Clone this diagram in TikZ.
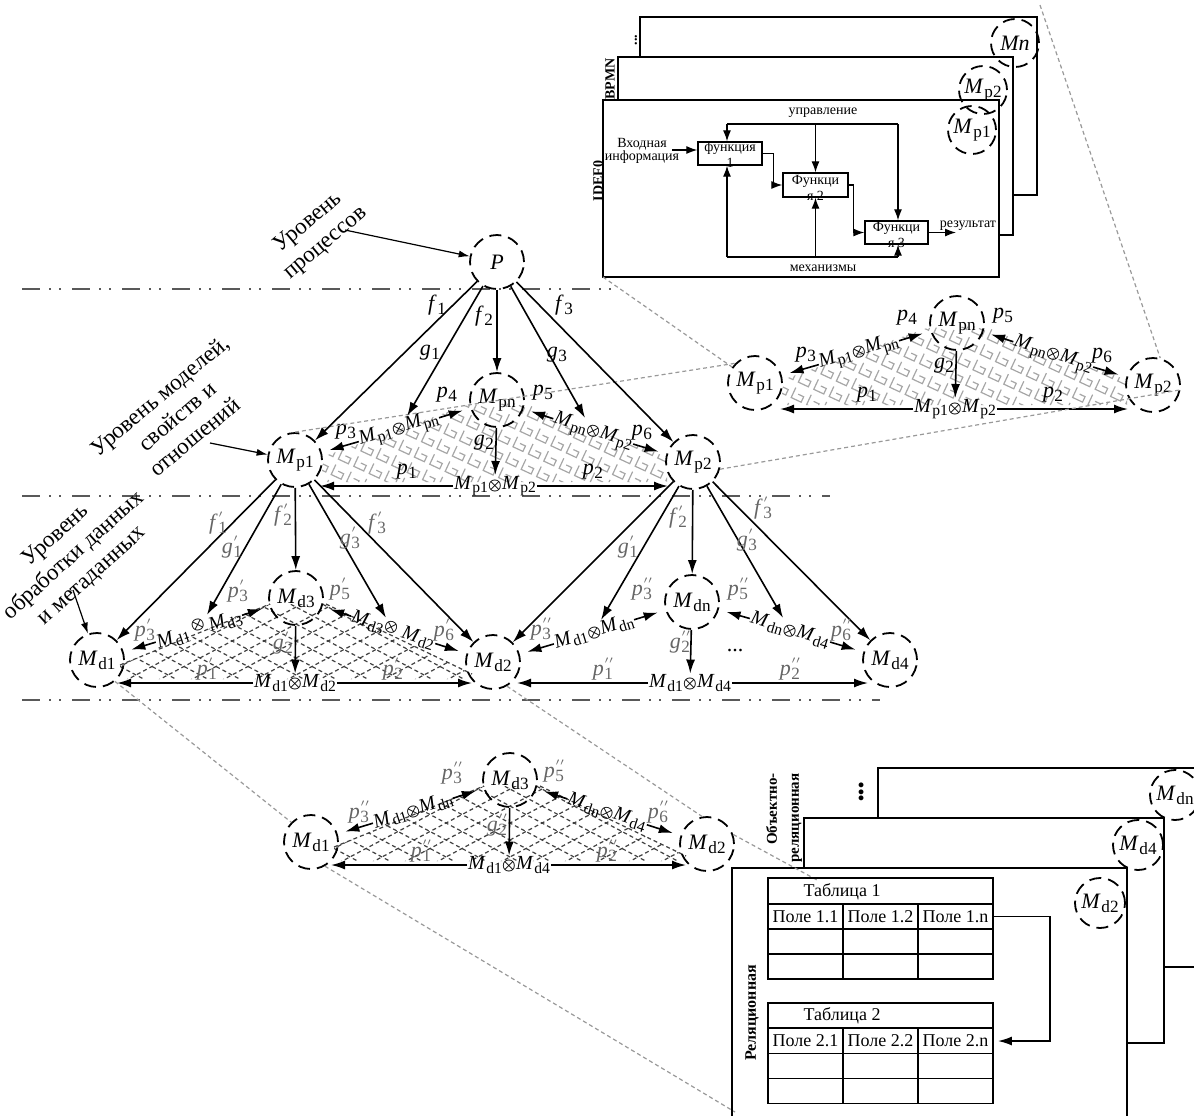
\documentclass[tikz,border=0pt]{standalone}
\usepackage{fontspec}
\setmainfont{Liberation Serif}
\usetikzlibrary{arrows.meta}
\makeatletter
\newcommand\subs[1]{{\edef\tmpsz{\strip@pt\dimexpr0.78\dimexpr\f@size pt\relax\relax}\fontsize{\tmpsz}{\tmpsz}\selectfont #1}}
\newcommand\otm{{\edef\tmpsz{\strip@pt\dimexpr0.66\dimexpr\f@size pt\relax\relax}\fontsize{\tmpsz}{\tmpsz}\selectfont\boldmath$\otimes$}}
\makeatother
\newcommand\Mm[1]{\textit{M}\kern0.03em\raisebox{-0.4ex}{\subs{#1}}}
\newcommand\mv[2]{\textit{#1}\kern0.02em\raisebox{-0.4ex}{\subs{#2}}}
\newcommand\mvp[3]{\textit{#1}\kern0.02em\rlap{\raisebox{1.1ex}{\fontsize{5.5}{5.5}\selectfont$#3$}}\raisebox{-0.4ex}{\subs{#2}}}
\tikzset{
 mc/.style={circle,draw,line width=0.9pt,dash pattern=on 6pt off 3.5pt,minimum size=27pt,inner sep=0pt,font=\fontsize{11}{13}\selectfont},
 mcs/.style={mc,minimum size=24pt},
 arr/.style={draw,line width=0.8pt,-{Latex[length=7pt,width=4.5pt]}},
 rarr/.style={arr,shorten >=4pt},
 tarr/.style={draw,line width=0.6pt,-{Latex[length=5.5pt,width=3.5pt]}},
 sarr/.style={draw,line width=0.6pt,-{Latex[length=5.5pt,width=4pt]}},
 lab/.style={inner sep=0.5pt,font=\fontsize{11}{13}\selectfont},
 glab/.style={lab,text=black!60},
 rel/.style={inner sep=0.3pt,font=\fontsize{10}{12}\selectfont},
 lvl/.style={draw=black!65,line width=1pt,dash pattern=on 9pt off 4.5pt on 1pt off 4pt on 1pt off 5.5pt},
 zl/.style={draw=black!40,line width=0.6pt,dash pattern=on 2pt off 1.5pt},
 stkbox/.style={draw,line width=0.8pt,fill=white},
 sm/.style={inner sep=0pt,font=\fontsize{7}{6.5}\selectfont,align=center},
 ftx/.style={inner sep=0pt,font=\fontsize{7}{8}\selectfont,align=center},
 fb/.style={draw,line width=0.7pt,inner sep=0pt,minimum width=32pt,minimum height=11.5pt},
 bl/.style={inner sep=0pt,font=\bfseries\fontsize{7}{7.5}\selectfont,rotate=90,align=center},
 lev/.style={inner sep=0pt,font=\fontsize{11.5}{13.5}\selectfont,align=center,rotate=40},
 cell/.style={draw,line width=0.9pt,minimum width=37.5pt,minimum height=12.5pt,inner sep=0pt,font=\fontsize{9}{10}\selectfont},
 ttl/.style={inner sep=0pt,font=\fontsize{9}{10}\selectfont},
 mz/.style={draw=black!35,line width=0.6pt},
 dh/.style={draw=black!75,line width=0.6pt,dash pattern=on 2pt off 1.5pt},
}
\newcommand\mazehatch{%
 \begin{scope}
 \clip (322,457)--(467,405)--(523,403)--(667,457)--(667,482)--(322,482)--cycle;
 \begin{scope}[rotate around={-25:(495,445)}]
 \foreach \j in {-9,...,9}{\draw[mz] \foreach \i in {-13,...,13}{({495+\i*17},{445+\j*17}) -- ++(0,11) -- ++(11,0) -- ++(0,-6) -- ++(-6,0)};}
 \end{scope}
 \end{scope}}
\newcommand\dashhatch{%
 \begin{scope}
 \clip (120,665)--(270,604)--(326,604)--(472,674)--(470,679)--(122,679)--cycle;
 \foreach \k in {-12,...,12}{
 \draw[dh] ({296+\k*32-230},{641-122}) -- ({296+\k*32+230},{641+122});
 \draw[dh] ({296+\k*32-230},{641+122}) -- ({296+\k*32+230},{641-122});}
 \end{scope}
 \draw[dh] (120,665)--(270,604) (326,604)--(472,674);}
\newcommand\proctri[1]{%
 \mazehatch
 \node[mc] (#1Mp1) at (295,460) {\Mm{p1}};
 \node[mc] (#1Mpn) at (497,400) {\Mm{pn}};
 \node[mc] (#1Mp2) at (693,462) {\Mm{p2}};
 \node[rel,rotate=16.5] (#1r1) at (399,430) {\Mm{p1}\otm\Mm{pn}};
 \node[rel,rotate=-17.5] (#1r2) at (593,432) {\Mm{pn}\otm\Mm{p2}};
 \node[rel] (#1r12) at (495,486) {\Mm{p1}\otm\Mm{p2}};
 \coordinate (#1e1) at (320,486);
 \coordinate (#1e2) at (668,486);
 \draw[rarr] (#1r1) -- (#1Mp1);
 \draw[rarr] (#1r1) -- (#1Mpn);
 \draw[rarr] (#1r2) -- (#1Mpn);
 \draw[rarr] (#1r2) -- (#1Mp2);
 \draw[arr] (#1r12) -- (#1e1);
 \draw[arr] (#1r12) -- (#1e2);
 \draw[arr] (#1Mpn) -- (#1r12);
 \node[lab] (#1l3) at (346,432) {\mv{p}{3}};
 \node[lab] (#1l4) at (447,395) {\mv{p}{4}};
 \node[lab] (#1l5) at (543,393) {\mv{p}{5}};
 \node[lab] (#1l6) at (642,433) {\mv{p}{6}};
 \node[lab] (#1l1) at (407,472) {\mv{p}{1}};
 \node[lab] (#1l2) at (593,472) {\mv{p}{2}};
 \node[lab] (#1lg) at (484,443) {\mv{g}{2}};
}
\begin{document}
\begin{tikzpicture}[x=0.5pt,y=-0.5pt]
\useasboundingbox (0,0) rectangle (1194,1115);
% level separators
\draw[lvl] (22,289) -- (617,289);
\draw[lvl] (22,496) -- (830,496);
\draw[lvl] (22,700) -- (880,700);
% upper right stack
\draw[stkbox] (640,17) rectangle (1037,195);
\draw[stkbox] (618,57) rectangle (1013,235);
\draw[stkbox] (603,100) rectangle (999,277);
\coordinate (cIDEF) at (603,277);
\coordinate (cMn) at (1040,5);
\node[bl] (dotsA) at (636,40) {...};
\node[bl] (bpmn) at (610,79) {BPMN};
\node[bl] (idef) at (598,181) {IDEF0};
\node[sm] (ctl) at (823,113) {управление};
\node[sm] (inp) at (642,151) {Входная\\информация};
\node[ftx] (F1t) at (730,155) {функция\\1};
\node[ftx] (F2t) at (815.5,187.5) {Функци\\я 2};
\node[ftx] (F3t) at (896.5,235) {Функци\\я 3};
\node[fb] (F1) at (730,153.5) {};
\node[fb,minimum width=32.5pt,minimum height=12pt] (F2) at (815.5,185) {};
\node[fb,minimum width=31.5pt] (F3) at (896.5,232.5) {};
\coordinate (inS) at (672,150);
\draw[sarr] (inS) -- (inS -| F1.west);
\coordinate (cL) at (727,124);
\coordinate (cR) at (898,124);
\draw[line width=0.6pt] (cL) -- (cR);
\draw[sarr] (cL) -- (cL |- F1.north);
\draw[sarr] (F2.north |- cL) -- (F2.north);
\draw[sarr] (cR) -- (cR |- F3.north);
\coordinate (mL) at (727,257);
\coordinate (mR) at (898,257);
\draw[line width=0.6pt] (mL) -- (mR);
\draw[sarr] (mL) -- (mL |- F1.south);
\draw[sarr] (F2.south |- mL) -- (F2.south);
\draw[sarr] (mR) -- (mR |- F3.south);
\draw[sarr] (F1.east) -- ++(11,0) |- (F2.west);
\draw[sarr] (F2.east) -- ++(5,0) |- (F3.west);
\node[sm] (res) at (968,226) {результат};
\coordinate (resA) at (956,232.5);
\draw[sarr] (F3.east) -- (resA);
\node[sm] (mech) at (823,268) {механизмы};
\node[mcs] (sMn) at (1015,43) {\textit{Mn}};
\node[mcs] (sMp2) at (983,90) {\Mm{p2}};
\node[mcs] (sMp1) at (972,130) {\Mm{p1}};
% level 1
\node[mc,minimum size=27pt] (P) at (497,262) {\textit{P}};
\node[lev] (lv1) at (317,233) {Уровень\\процессов};
\coordinate (lv1s) at (345,230);
\draw[tarr] (lv1s) -- (P);
% level 2 and its inset
\proctri{a}
\begin{scope}[shift={(460,-77)}]
\proctri{b}
\end{scope}
\draw[zl] (cIDEF) -- (bMp1);
\draw[zl] (aMp1.north) -- (bMp1.north west);
\draw[zl] (aMp2.-15) -- (bMp2.-10);
\draw[zl] (cMn) -- (bMp2.75);
\draw[arr] (P) -- (aMp1);
\draw[arr] (P) -- (ar1);
\draw[arr] (P) -- (aMpn);
\draw[arr] (P) -- (ar2);
\draw[arr] (P) -- (aMp2);
\node[lab] (lf1) at (437,305) {\mv{f}{1}};
\node[lab] (lg1) at (430,353) {\mv{g}{1}};
\node[lab] (lf2) at (484,316) {\mv{f}{2}};
\node[lab] (lg3) at (557,355) {\mv{g}{3}};
\node[lab] (lf3) at (564,305) {\mv{f}{3}};
\node[lev] (lv2) at (177,416) {Уровень моделей,\\свойств и\\отношений};
\coordinate (lv2s) at (210,443);
\draw[tarr] (lv2s) -- (aMp1);
% level 3 left
\dashhatch
\node[mc] (Md1) at (97,660) {\Mm{d1}};
\node[mc] (Md3) at (296,598) {\Mm{d3}};
\node[mc] (Md2) at (493,662) {\Mm{d2}};
\node[rel,rotate=18] (rd13) at (199,629) {\Mm{d1}\,\raisebox{0.7ex}{\otm}\,\Mm{d3}};
\node[rel,rotate=-18] (rd32) at (393,630) {\Mm{d3}\raisebox{0.3ex}{\otm}\ \Mm{d2}};
\node[rel] (rd12) at (295,683) {\Mm{d1}\otm\Mm{d2}};
\coordinate (rd12L) at (117,683);
\coordinate (rd12R) at (472,683);
\draw[rarr] (rd13) -- (Md1);
\draw[rarr] (rd13) -- (Md3);
\draw[rarr] (rd32) -- (Md3);
\draw[rarr] (rd32) -- (Md2);
\draw[arr] (rd12) -- (rd12L);
\draw[arr] (rd12) -- (rd12R);
\draw[arr] (Md3) -- (rd12);
\draw[arr] (aMp1) -- (Md1);
\draw[arr] (aMp1) -- (rd13);
\draw[arr] (aMp1) -- (Md3);
\draw[arr] (aMp1) -- (rd32);
\draw[arr] (aMp1) -- (Md2);
\node[glab] (q1) at (218,523) {\mvp{f}{1}{\prime}};
\node[glab] (q2) at (232,547) {\mvp{g}{1}{\prime}};
\node[glab] (q3) at (283,515) {\mvp{f}{2}{\prime}};
\node[glab] (q4) at (350,538) {\mvp{g}{3}{\prime}};
\node[glab] (q5) at (377,523) {\mvp{f}{3}{\prime}};
\node[glab] (q6) at (238,591) {\mvp{p}{3}{\prime}};
\node[glab] (q7) at (145,630) {\mvp{p}{3}{\prime}};
\node[glab] (q8) at (340,589) {\mvp{p}{5}{\prime}};
\node[glab] (q9) at (444,630) {\mvp{p}{6}{\prime}};
\node[glab] (q10) at (283,643) {\mvp{g}{2}{\prime}};
\node[glab] (q11) at (207,669) {\mvp{p}{1}{\prime}};
\node[glab] (q12) at (393,669) {\mvp{p}{2}{\prime}};
\node[lev,rotate=2] (lv3) at (74,556) {Уровень\\обработки данных\\и метаданных};
\coordinate (lv3s) at (73,590);
\draw[tarr] (lv3s) -- (Md1);
% level 3 right
\node[mc] (Mdn) at (692,602) {\Mm{dn}};
\node[mc] (Md4) at (890,660) {\Mm{d4}};
\node[rel,rotate=17] (rd2n) at (594,632) {\Mm{d1}\otm\Mm{dn}};
\node[rel,rotate=-17] (rdn4) at (790,630) {\Mm{dn}\otm\Mm{d4}};
\node[rel] (rd14) at (690,683) {\Mm{d1}\otm\Mm{d4}};
\coordinate (rd14L) at (517,683);
\coordinate (rd14R) at (868,683);
\draw[rarr] (rd2n) -- (Md2);
\draw[rarr] (rd2n) -- (Mdn);
\draw[rarr] (rdn4) -- (Mdn);
\draw[rarr] (rdn4) -- (Md4);
\draw[arr] (rd14) -- (rd14L);
\draw[arr] (rd14) -- (rd14R);
\draw[arr] (Mdn) -- (rd14);
\draw[arr] (aMp2) -- (Md2);
\draw[arr] (aMp2) -- (rd2n);
\draw[arr] (aMp2) -- (Mdn);
\draw[arr] (aMp2) -- (rdn4);
\draw[arr] (aMp2) -- (Md4);
\node[glab] (w1) at (678,517) {\mvp{f}{2}{\prime}};
\node[glab] (w2) at (628,547) {\mvp{g}{1}{\prime}};
\node[glab] (w3) at (747,540) {\mvp{g}{3}{\prime}};
\node[glab] (w4) at (763,508) {\mvp{f}{3}{\prime}};
\node[glab] (w5) at (642,589) {\mvp{p}{3}{\prime\prime}};
\node[glab] (w6) at (541,629) {\mvp{p}{3}{\prime\prime}};
\node[glab] (w7) at (738,589) {\mvp{p}{5}{\prime\prime}};
\node[glab] (w8) at (841,630) {\mvp{p}{6}{\prime\prime}};
\node[glab] (w9) at (680,642) {\mvp{g}{2}{\prime\prime}};
\node[lab] (w10) at (735,650) {...};
\node[glab] (w11) at (603,669) {\mvp{p}{1}{\prime\prime}};
\node[glab] (w12) at (790,669) {\mvp{p}{2}{\prime\prime}};
% bottom inset
\begin{scope}[shift={(214,182)}]
\dashhatch
\node[mc] (jMd1) at (97,660) {\Mm{d1}};
\node[mc] (jMd3) at (296,598) {\Mm{d3}};
\node[mc] (jMd2) at (493,662) {\Mm{d2}};
\node[rel,rotate=18] (jr1) at (199,629) {\Mm{d1}\otm\Mm{dn}};
\node[rel,rotate=-18] (jr2) at (393,630) {\Mm{dn}\otm\Mm{d4}};
\node[rel] (jr12) at (295,683) {\Mm{d1}\otm\Mm{d4}};
\coordinate (jr12L) at (117,683);
\coordinate (jr12R) at (472,683);
\draw[rarr] (jr1) -- (jMd1);
\draw[rarr] (jr1) -- (jMd3);
\draw[rarr] (jr2) -- (jMd3);
\draw[rarr] (jr2) -- (jMd2);
\draw[arr] (jr12) -- (jr12L);
\draw[arr] (jr12) -- (jr12R);
\draw[arr] (jMd3) -- (jr12);
\node[glab] (v1) at (238,591) {\mvp{p}{3}{\prime\prime}};
\node[glab] (v2) at (145,630) {\mvp{p}{3}{\prime\prime}};
\node[glab] (v3) at (340,589) {\mvp{p}{5}{\prime\prime}};
\node[glab] (v4) at (444,630) {\mvp{p}{6}{\prime\prime}};
\node[glab] (v5) at (283,643) {\mvp{g}{2}{\prime\prime}};
\node[glab] (v6) at (207,669) {\mvp{p}{1}{\prime\prime}};
\node[glab] (v7) at (393,669) {\mvp{p}{2}{\prime\prime}};
\end{scope}
\draw[zl] (Md1.-50) -- (jMd1.135);
\draw[zl] (Md2.-60) -- (jMd2.100);
% bottom right stack
\draw[stkbox] (878,768) rectangle (1210,967);
\draw[stkbox] (804,818) rectangle (1164,1043);
\draw[stkbox] (732,868) rectangle (1127,1125);
\coordinate (cT1) at (817,880);
\coordinate (cRel) at (735,1112);
\draw[zl] (jMd2.20) -- (cT1);
\draw[zl] (jMd1.-60) -- (cRel);
\node[bl,font=\bfseries\fontsize{9}{9}\selectfont] (dotsB) at (863,792) {•••};
\node[bl,align=right,font=\bfseries\fontsize{7.5}{11}\selectfont] (objrel) at (784,818) {Объектно-\\реляционная};
\node[bl,font=\bfseries\fontsize{8}{9}\selectfont] (relat) at (752,1013) {Реляционная};
\node[mc,minimum size=25pt] (tMdn) at (1175,795) {\Mm{dn}};
\node[mc,minimum size=25pt] (tMd4) at (1138,845) {\Mm{d4}};
\node[mc,minimum size=25pt] (tMd2) at (1100,903) {\Mm{d2}};
% table 1
\node[cell,minimum width=112.5pt,minimum height=13pt] (T1) at (880.5,891) {};
\node[ttl] (T1t) at (842,892) {Таблица 1};
\node[cell] (a11) at (805.5,916.5) {Поле 1.1};
\node[cell] (a12) at (880.5,916.5) {Поле 1.2};
\node[cell] (a13) at (955.5,916.5) {Поле 1.n};
\node[cell] (a21) at (805.5,941.5) {};
\node[cell] (a22) at (880.5,941.5) {};
\node[cell] (a23) at (955.5,941.5) {};
\node[cell] (a31) at (805.5,966.5) {};
\node[cell] (a32) at (880.5,966.5) {};
\node[cell] (a33) at (955.5,966.5) {};
% table 2
\node[cell,minimum width=112.5pt] (T2) at (880.5,1015.5) {};
\node[ttl] (T2t) at (842,1016) {Таблица 2};
\node[cell] (b11) at (805.5,1041) {Поле 2.1};
\node[cell] (b12) at (880.5,1041) {Поле 2.2};
\node[cell] (b13) at (955.5,1041) {Поле 2.n};
\node[cell] (b21) at (805.5,1066) {};
\node[cell] (b22) at (880.5,1066) {};
\node[cell] (b23) at (955.5,1066) {};
\node[cell] (b31) at (805.5,1091) {};
\node[cell] (b32) at (880.5,1091) {};
\node[cell] (b33) at (955.5,1091) {};
\draw[arr,shorten >=2pt] (a13.east) -- ++(56,0) |- (b13.east);
\end{tikzpicture}
\end{document}
